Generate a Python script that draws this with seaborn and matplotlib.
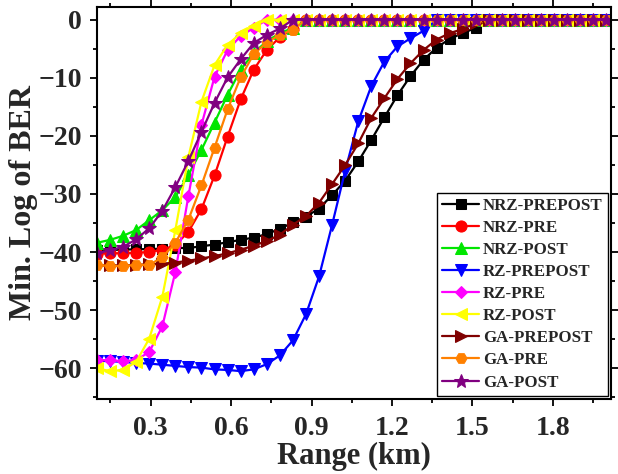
import numpy as np
import pandas as pd
import matplotlib
matplotlib.use('Agg')
import matplotlib.pyplot as plt
from matplotlib.ticker import MultipleLocator
import seaborn as sns

# range grid (km), 40 points between 0.1 and 2.0
range_km = [0.1000, 0.1487, 0.1974, 0.2462, 0.2949, 0.3436, 0.3923, 0.4410,
            0.4897, 0.5385, 0.5872, 0.6359, 0.6846, 0.7333, 0.7821, 0.8308,
            0.8795, 0.9282, 0.9769, 1.0256, 1.0744, 1.1231, 1.1718, 1.2205,
            1.2692, 1.3179, 1.3667, 1.4154, 1.4641, 1.5128, 1.5615, 1.6103,
            1.6590, 1.7077, 1.7564, 1.8051, 1.8538, 1.9026, 1.9513, 2.0000]

nrz_prepost = [-39.6, -39.6, -39.6, -39.5, -39.5, -39.4, -39.3, -39.3, -39.0, -38.7,
               -38.3, -37.9, -37.5, -36.9, -36.0, -34.9, -33.9, -32.5, -30.2, -27.7,
               -24.4, -20.7, -16.8, -13.0, -9.7, -6.9, -4.8, -3.3, -2.3, -1.4,
               0, 0, 0, 0, 0, 0, 0, 0, 0, 0]
nrz_pre = [-40.3, -40.2, -40.2, -40.1, -40.0, -39.6, -38.8, -36.5, -32.6, -26.8,
           -20.1, -13.7, -8.6, -5.2, -3.0, -1.6, 0, 0, 0, 0,
           0, 0, 0, 0, 0, 0, 0, 0, 0, 0,
           0, 0, 0, 0, 0, 0, 0, 0, 0, 0]
nrz_post = [-38.4, -37.9, -37.2, -36.2, -34.5, -32.8, -30.5, -26.7, -22.4, -17.7,
            -12.9, -8.6, -5.7, -3.7, -2.3, -1.4, 0, 0, 0, 0,
            0, 0, 0, 0, 0, 0, 0, 0, 0, 0,
            0, 0, 0, 0, 0, 0, 0, 0, 0, 0]
rz_prepost = [-58.7, -58.8, -58.9, -59.1, -59.2, -59.4, -59.6, -59.8, -59.9, -60.2,
              -60.3, -60.5, -60.2, -59.3, -57.8, -55.2, -50.7, -44.2, -35.3, -26.0,
              -17.5, -11.4, -7.2, -4.6, -3.2, -1.9, 0, 0, 0, 0,
              0, 0, 0, 0, 0, 0, 0, 0, 0, 0]
rz_pre = [-58.6, -58.6, -58.8, -58.6, -57.2, -52.8, -43.4, -30.3, -18.1, -9.8,
          -5.2, -2.8, -1.4, 0, 0, 0, 0, 0, 0, 0,
          0, 0, 0, 0, 0, 0, 0, 0, 0, 0,
          0, 0, 0, 0, 0, 0, 0, 0, 0, 0]
rz_post = [-60.0, -60.5, -60.3, -58.9, -54.9, -47.7, -36.2, -23.6, -14.1, -7.8,
           -4.3, -2.3, -1.0, 0, 0, 0, 0, 0, 0, 0,
           0, 0, 0, 0, 0, 0, 0, 0, 0, 0,
           0, 0, 0, 0, 0, 0, 0, 0, 0, 0]
ga_prepost = [-42.3, -42.3, -42.3, -42.2, -42.1, -42.0, -41.8, -41.5, -41.1, -40.7,
              -40.2, -39.6, -38.9, -38.1, -37.0, -35.3, -33.8, -31.5, -28.3, -25.0,
              -21.3, -16.9, -13.5, -10.2, -7.5, -5.2, -3.4, -2.3, -1.6, -0.6,
              0, 0, 0, 0, 0, 0, 0, 0, 0, 0]
ga_pre = [-42.2, -42.4, -42.4, -42.2, -42.2, -40.9, -38.4, -34.4, -28.5, -22.0,
          -15.4, -9.9, -5.9, -3.9, -2.6, -1.7, 0, 0, 0, 0,
          0, 0, 0, 0, 0, 0, 0, 0, 0, 0,
          0, 0, 0, 0, 0, 0, 0, 0, 0, 0]
ga_post = [-40.2, -39.7, -39.1, -37.8, -35.9, -32.9, -28.8, -24.3, -19.3, -14.3,
           -9.9, -6.8, -4.0, -2.6, -1.5, 0, 0, 0, 0, 0,
           0, 0, 0, 0, 0, 0, 0, 0, 0, 0,
           0, 0, 0, 0, 0, 0, 0, 0, 0, 0]

series_names = ['NRZ-PREPOST', 'NRZ-PRE', 'NRZ-POST', 'RZ-PREPOST', 'RZ-PRE',
                'RZ-POST', 'GA-PREPOST', 'GA-PRE', 'GA-POST']
series_values = [nrz_prepost, nrz_pre, nrz_post, rz_prepost, rz_pre,
                 rz_post, ga_prepost, ga_pre, ga_post]
colors = ['#000000', '#FF0000', '#00E600', '#0000FF', '#FF00FF',
          '#FFFF00', '#800000', '#FF8000', '#800080']
marker_list = ['s', 'o', '^', 'v', 'D', '<', '>', 'H', '*']
marker_sizes = [7, 8, 8, 8, 6.5, 8, 8, 8, 10]

df = pd.concat([pd.DataFrame({'range': range_km, 'ber': v, 'series': n})
                for n, v in zip(series_names, series_values)], ignore_index=True)

sns.set_style('ticks')
plt.rcParams['font.family'] = ['Liberation Serif', 'DejaVu Serif']
plt.rcParams['font.weight'] = 'bold'
plt.rcParams['axes.labelweight'] = 'bold'

fig = plt.figure(figsize=(6.18, 4.74), dpi=100)
ax = fig.add_axes([97 / 618, 1 - 399 / 474, (611 - 97) / 618, (399 - 7) / 474])

sns.lineplot(data=df, x='range', y='ber', hue='series', style='series',
             hue_order=series_names, style_order=series_names,
             palette=dict(zip(series_names, colors)),
             markers=dict(zip(series_names, marker_list)),
             dashes=False, linewidth=1.6, legend=False, ax=ax)

for line, name, ms in zip(ax.lines, series_names, marker_sizes):
    line.set_markeredgecolor(line.get_color())
    line.set_markerfacecolor(line.get_color())
    line.set_markersize(ms)
    line.set_label(name)

ax.set_xlim(0.1, 2.017)
ax.set_ylim(-65.3, 2.2)
ax.xaxis.set_minor_locator(MultipleLocator(0.15))
ax.yaxis.set_minor_locator(MultipleLocator(5))
ax.set_xticks([0.3, 0.6, 0.9, 1.2, 1.5, 1.8])
ax.set_yticks([-60, -50, -40, -30, -20, -10, 0])

for s in ax.spines.values():
    s.set_visible(True)
    s.set_linewidth(1.5)
    s.set_color('black')

ax.tick_params(which='both', direction='out', top=True, right=True,
               labeltop=False, labelright=False, width=1.3, color='black')
ax.tick_params(which='major', length=5, labelsize=20)
ax.tick_params(which='minor', length=3)
ax.tick_params(axis='x', which='major', pad=7)
ax.tick_params(axis='y', which='major', pad=6)
for lab in ax.get_xticklabels() + ax.get_yticklabels():
    lab.set_fontweight('bold')

ax.set_xlabel('Range (km)', fontsize=22, fontweight='bold', labelpad=1)
ax.set_ylabel('Min. Log of BER', fontsize=23, fontweight='bold', labelpad=0)

leg = ax.legend(loc='lower right', frameon=True, fancybox=False,
                framealpha=1, edgecolor='black', handlelength=2.2,
                handletextpad=0.2, labelspacing=0.36, borderpad=0.3,
                borderaxespad=0.2, prop={'weight': 'bold', 'size': 12.2})
leg.get_frame().set_linewidth(1.0)

fig.savefig('out.png', dpi=100)
